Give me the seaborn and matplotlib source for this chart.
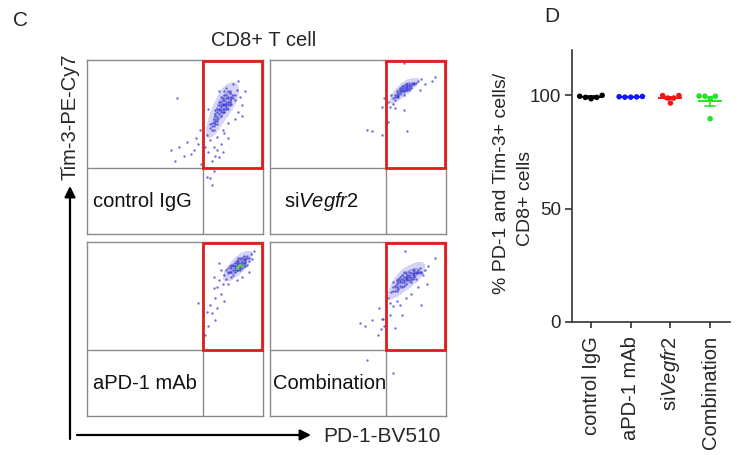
import numpy as np
import pandas as pd
import matplotlib
matplotlib.use("Agg")
import matplotlib.pyplot as plt
from matplotlib.patches import Rectangle
import seaborn as sns

# ---------------- data ----------------
groups = ["control IgG", "aPD-1 mAb", "siVegfr2", "Combination"]
group_labels = ["control IgG", "aPD-1 mAb", r"si$\mathit{Vegfr2}$", "Combination"]
ctrl_vals = [100.0, 99.1, 98.5, 99.6, 99.1]
apd1_vals = [99.5, 99.2, 99.4, 99.3, 99.2]
sivegfr2_vals = [99.9, 99.9, 98.8, 96.6, 98.8]
combo_vals = [99.7, 99.6, 99.6, 98.5, 89.7]
group_colors = ["#000000", "#1414ff", "#f51414", "#22e622"]
y_ticks = [0, 50, 100]

# flow cytometry events (PD-1 %, Tim-3 %)
flow_ctrl = [(74,70),(75,72),(76,73),(77,74),(78,75),(79,76),(80,75),(76,76),(78,72),(75,69),
             (73,68),(72,66),(74,67),(79,78),(81,77),(80,79),(82,78),(77,77),(76,71),(78,70),
             (73,71),(71,64),(72,62),(70,63),(73,65),(71,60),(74,63),(83,80),(81,81),(79,73),
             (84,77),(76,79),(78,80),(80,72),(82,75),(77,75),(79,74),(75,74),(81,76),(74,65),
             (76,74),(77,72),(78,77),(79,75),(80,78),(75,71),(74,72),(77,70),(79,72),(81,74),
             (82,79),(76,70),(78,74),(80,76),(77,78),(75,76),(73,69),(72,64),(71,62),(74,66),
             (76,68),(73,63),(72,60),(70,61),(83,78),(84,80),(79,80),(81,82),(78,82),(80,82),
             (85,83),(87,79),(83,86),(79,84),(75,82),(88,74),(86,70),(84,66),(80,64),(77,60),
             (74,56),(76,52),(72,50),(70,54),(68,57),(73,45),(75,44),(71,42),(69,47),(67,50),
             (66,44),(70,38),(72,36),(70,32),(71,28),(68,33),(65,40),(63,52),(61,48),(62,55),
             (59,46),(57,53),(55,45),(52,50),(50,42),(48,48),(51,78),(64,60),(66,66),(69,72),
             (86,88),(90,82),(88,68),(78,58),(80,55),(74,48),(77,47)]
flow_sivegfr2 = [(72,80),(73,81),(74,82),(75,83),(76,84),(77,84),(78,85),(79,85),(80,86),(74,84),
                 (76,82),(78,83),(71,79),(70,78),(73,79),(77,86),(81,87),(82,86),(75,85),(79,83),
                 (83,87),(72,82),(69,80),(71,77),(84,88),(80,84),(76,80),(74,81),(75,82),(76,83),
                 (77,83),(78,84),(79,84),(80,85),(73,80),(72,79),(77,85),(78,86),(81,86),(82,87),
                 (75,84),(76,85),(74,83),(79,86),(71,80),
                 (86,89),(94,90),(92,88),(88,86),(76,98),(67,76),(68,73),(66,70),(71,72.5),(76,71),
                 (67,64.5),(63.5,73),(58,59),(63.5,57),(55,60),(77.7,59),(70,75),(85,83),(65,78)]
flow_apd1 = [(80,82),(82,83),(84,85),(86,86),(88,87),(90,89),(85,88),(87,84),(83,86),(89,90),
             (91,91),(84,83),(86,89),(88,85),(82,80),(79,84),(81,86),(92,89),(90,86),(86,84),
             (85,87),(87,88),(83,81),(89,92),(93,93),(78,81),(80,85),(91,87),(86,91),(84,88),
             (84,84),(85,86),(86,87),(87,86),(88,88),(89,88),(83,84),(85,84),(87,90),(90,90),
             (86,85),(84,86),(82,85),(81,83),(88,89),(90,88),(89,86),(83,87),(87,85),(85,89),
             (91,92),(92,91),(80,83),(86,88),
             (76,84),(75,78),(77,76),(95,95),(94,90),(92,83),(88,80),(85,78),(80,76),(74,74),
             (72,73.6),(76,70),(73,68),(70,64),(74,62),(71,59),(72.7,55),(69,52),(67,46.7),
             (63,65),(68,60),(78,66),(75,88),(72,80),(66,42),(79,79),(82,87),(88,91)]
flow_apd1_core = [(86,86),(87,87),(85,85),(88,86)]
flow_combo = [(70,74),(72,76),(74,77),(76,78),(78,79),(80,80),(82,81),(84,82),(86,83),(73,79),
              (75,81),(77,82),(79,83),(81,84),(83,79),(77,76),(75,74),(71,72),(69,71),(74,80),
              (78,81),(80,77),(82,84),(85,85),(76,83),(72,78),(79,78),(81,79),(83,83),(87,81),
              (70,77),(73,73),(76,75),(75,79),(76,80),(77,79),(78,80),(79,81),(80,82),(81,81),
              (82,82),(83,82),(84,83),(74,78),(73,77),(72,74),(71,75),(76,77),(78,78),(80,79),
              (82,80),(84,84),(86,82),(77,80),(79,80),(81,82),(75,77),(74,75),(70,72),(72,72),
              (85,83),
              (88,84),(90,86),(94,91),(76.7,94.6),(66,72),(67,68),
              (68,65),(70,63),(72,66),(74,63.6),(66,60),(64,56),(63.5,56),(65,52),(61.5,46.7),
              (63,50),(71,50.6),(74.8,58),(86,64),(54,51.7),(51,53.4),(58,55),(70,24.7),(55,32),
              (68,58),(77,68),(80,70),(84,74),(89,76),(62,62)]

panel_names = ["control IgG", r"si$\mathit{Vegfr2}$", "aPD-1 mAb", "Combination"]

# ---------------- style ----------------
sns.set_theme(style="ticks")
plt.rcParams["font.family"] = ["Liberation Sans", "DejaVu Sans"]
plt.rcParams["mathtext.fontset"] = "custom"
plt.rcParams["mathtext.rm"] = "Liberation Sans"
plt.rcParams["mathtext.it"] = "Liberation Sans:italic"

W, H = 742, 455
fig = plt.figure(figsize=(W / 100, H / 100), dpi=100)
fig.patch.set_facecolor("white")


def rect(x0, y0, x1, y1):
    return [x0 / W, 1 - y1 / H, (x1 - x0) / W, (y1 - y0) / H]


# overlay for arrows / free text (pixel coordinates)
ov = fig.add_axes([0, 0, 1, 1])
ov.set_xlim(0, W)
ov.set_ylim(H, 0)
ov.axis("off")

# ---------------- panel C ----------------
gate_x, gate_y = 66, 38
flow_sets = [flow_ctrl, flow_sivegfr2, flow_apd1, flow_combo]
flow_rects = [(87, 60, 263, 234), (270, 60, 446, 234), (87, 242, 263, 416), (270, 242, 446, 416)]
label_x = [3.4, 8, 3.4, 1.7]
for pts, r, name, lx in zip(flow_sets, flow_rects, panel_names, label_x):
    ax = fig.add_axes(rect(*r))
    df = pd.DataFrame(pts, columns=["PD-1", "Tim-3"])
    sns.kdeplot(data=df, x="PD-1", y="Tim-3", ax=ax, fill=True, thresh=0.45, levels=3,
                color="#5a5ae0", alpha=0.45, bw_adjust=0.8)
    sns.scatterplot(data=df, x="PD-1", y="Tim-3", ax=ax, s=3, color="#3c3cd4",
                    alpha=0.75, linewidth=0, legend=False)
    if pts is flow_apd1:
        dfc = pd.DataFrame(flow_apd1_core, columns=["PD-1", "Tim-3"])
        sns.scatterplot(data=dfc, x="PD-1", y="Tim-3", ax=ax, s=5, color="#5cc85c",
                        linewidth=0, legend=False)
    ax.set_xlim(0, 100)
    ax.set_ylim(0, 100)
    ax.set_xticks([])
    ax.set_yticks([])
    ax.set_xlabel("")
    ax.set_ylabel("")
    for sp in ax.spines.values():
        sp.set_visible(True)
        sp.set_color("#8a8a8a")
        sp.set_linewidth(1.0)
    ax.axvline(gate_x, color="#8a8a8a", lw=1.0)
    ax.axhline(gate_y, color="#8a8a8a", lw=1.0)
    ax.add_patch(Rectangle((gate_x, gate_y), 100 - gate_x - 0.6, 100 - gate_y - 0.6,
                           fill=False, edgecolor="#e01e1e", lw=2.0, clip_on=False, zorder=5))
    ax.text(lx, 18.5, name, fontsize=14.5, ha="left", va="center", color="#111111")

ov.text(20, 21, "C", fontsize=15, ha="center", va="center")
ov.text(264, 41, "CD8+ T cell", fontsize=14.5, ha="center", va="center")
ov.annotate("", xy=(70, 186), xytext=(70, 439),
            arrowprops=dict(arrowstyle="-|>", lw=1.6, color="black", mutation_scale=16,
                            shrinkA=0, shrinkB=0))
ov.annotate("", xy=(311, 435), xytext=(77, 435),
            arrowprops=dict(arrowstyle="-|>", lw=1.6, color="black", mutation_scale=16,
                            shrinkA=0, shrinkB=0))
ov.text(70, 117, "Tim-3-PE-Cy7", fontsize=14.5, rotation=90, ha="center", va="center")
ov.text(323, 436, "PD-1-BV510", fontsize=15, ha="left", va="center")

# ---------------- panel D ----------------
axd = fig.add_axes(rect(572, 50, 730, 322))
df = pd.DataFrame({
    "group": np.repeat(groups, 5),
    "value": ctrl_vals + apd1_vals + sivegfr2_vals + combo_vals,
})
pal = dict(zip(groups, group_colors))
sns.swarmplot(data=df, x="group", y="value", hue="group", palette=pal, order=groups,
              size=4.0, linewidth=0, legend=False, ax=axd, zorder=3)
sns.pointplot(data=df, x="group", y="value", hue="group", palette=pal, order=groups,
              errorbar="se", capsize=0.25, markers="_", markersize=17, markeredgewidth=1.4,
              linestyle="none", err_kws={"linewidth": 1.2}, legend=False, ax=axd, zorder=4)
axd.set_xlim(-0.48, 3.5)
axd.set_ylim(0, 120)
axd.set_yticks(y_ticks)
axd.set_yticklabels([str(v) for v in y_ticks], fontsize=13.5)
axd.set_xticks(range(len(groups)))
axd.set_xticklabels(group_labels, rotation=90, fontsize=14.5)
axd.set_xlabel("")
axd.set_ylabel("")
axd.tick_params(axis="y", length=5, width=1.2, pad=3, color="#333333")
axd.tick_params(axis="x", length=4, width=1.2, pad=6, color="#333333")
for s in ["top", "right"]:
    axd.spines[s].set_visible(False)
for s in ["left", "bottom"]:
    axd.spines[s].set_color("#333333")
    axd.spines[s].set_linewidth(1.2)
axd.set_facecolor("white")

ov.text(502, 183, "% PD-1 and Tim-3+ cells/", fontsize=14, rotation=90,
        ha="center", va="center")
ov.text(526, 198, "CD8+ cells", fontsize=14, rotation=90, ha="center", va="center")
ov.text(552, 17, "D", fontsize=15, ha="center", va="center")

fig.savefig("out.png", dpi=100, facecolor="white")
